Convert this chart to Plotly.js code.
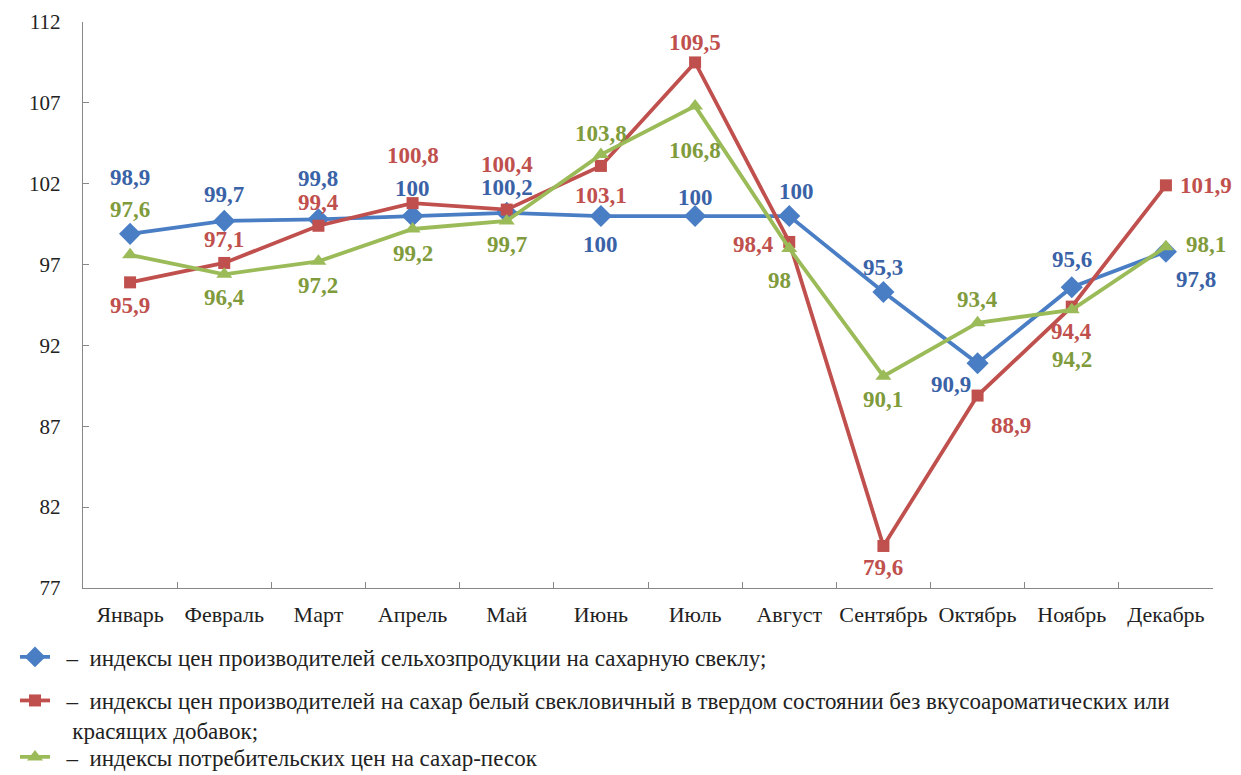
<!DOCTYPE html>
<html>
<head>
<meta charset="utf-8">
<script src="https://cdn.plot.ly/plotly-3.0.1.min.js"></script>
<style>
html,body{margin:0;padding:0;background:#fff;}
#chart{width:1241px;height:775px;}
</style>
</head>
<body>
<div id="chart"></div>
<script>
const months = ["Январь","Февраль","Март","Апрель","Май","Июнь","Июль","Август","Сентябрь","Октябрь","Ноябрь","Декабрь"];
const beetPrices = [98.9, 99.7, 99.8, 100, 100.2, 100, 100, 100, 95.3, 90.9, 95.6, 97.8];
const sugarProducer = [95.9, 97.1, 99.4, 100.8, 100.4, 103.1, 109.5, 98.4, 79.6, 88.9, 94.4, 101.9];
const sugarConsumer = [97.6, 96.4, 97.2, 99.2, 99.7, 103.8, 106.8, 98, 90.1, 93.4, 94.2, 98.1];
const seriesNames = [
  "\u00a0\u00a0–  индексы цен производителей сельхозпродукции на сахарную свеклу;",
  "\u00a0\u00a0–  индексы цен производителей на сахар белый свекловичный в твердом состоянии без вкусоароматических или<br>\u00a0\u00a0\u00a0красящих добавок;",
  "\u00a0\u00a0–  индексы потребительских цен на сахар-песок"
];
const yTicks = [77, 82, 87, 92, 97, 102, 107, 112];

// label offsets (pixels) – styling only
const offBlue = [[0,56],[0,26],[0,41],[0,28],[0,25],[0,-28],[0,19],[7,25],[0,25],[-27,-21],[0,28],[30,-28]];
const offRed = [[0,-23],[0,23],[0,23],[0,48],[0,45],[0,-30],[0,20],[-36,-3],[0,-22],[33,-30],[0,-25],[40,0]];
const offGreen = [[0,45],[0,-23],[0,-24],[0,-25],[0,-24],[0,21],[0,-44],[-10,-32],[0,-23],[0,23],[0,-50],[40,2]];

const serif = "Liberation Serif, Times New Roman, serif";
const cBlue = "#4A7EC4", cRed = "#C0504D", cGreen = "#9BBB59";
const lBlue = "#3A62A6", lRed = "#C0504D", lGreen = "#7F9B3C";

function fmt(v){ return String(v).replace(".", ","); }

const traces = [
  {x: months, y: beetPrices, name: seriesNames[0], type: "scatter", mode: "lines+markers",
   line: {color: cBlue, width: 3.8}, marker: {symbol: "diamond", size: 17, color: cBlue}, legend: "legend"},
  {x: months, y: sugarProducer, name: seriesNames[1], type: "scatter", mode: "lines+markers",
   line: {color: cRed, width: 3.8}, marker: {symbol: "square", size: 12, color: cRed}, legend: "legend2"},
  {x: months, y: sugarConsumer, name: seriesNames[2], type: "scatter", mode: "lines+markers",
   line: {color: cGreen, width: 3.8}, marker: {symbol: "triangle-up", size: 14, color: cGreen}, legend: "legend3"}
];

const annotations = [];
function addLabels(vals, offs, color){
  vals.forEach((v,i)=>{
    annotations.push({x: months[i], y: v, xref: "x", yref: "y", text: fmt(v), showarrow: false,
      xshift: offs[i][0], yshift: offs[i][1], xanchor: "center", yanchor: "middle",
      font: {family: serif, size: 23, color: color, weight: "bold"}});
  });
}
addLabels(beetPrices, offBlue, lBlue);
addLabels(sugarProducer, offRed, lRed);
addLabels(sugarConsumer, offGreen, lGreen);

const legendBase = {xref: "container", yref: "container", x: 15/1241, xanchor: "left",
  orientation: "v", valign: "top", bgcolor: "rgba(0,0,0,0)",
  font: {family: serif, size: 23, color: "#222"}};

const layout = {
  width: 1241, height: 775,
  margin: {l: 83, r: 28, t: 22, b: 187, autoexpand: false},
  paper_bgcolor: "#fff", plot_bgcolor: "#fff",
  showlegend: true,
  xaxis: {type: "category", range: [-0.5, 11.5], tickson: "boundaries", ticks: "inside", ticklen: 6, tickcolor: "#888",
    showline: true, linecolor: "#888", linewidth: 1.3, showgrid: false, zeroline: false, tickangle: 0,
    tickfont: {family: serif, size: 22, color: "#222"}, ticklabelstandoff: 6},
  yaxis: {range: [77, 112], tickvals: yTicks, ticks: "inside", ticklen: 6, tickcolor: "#888",
    showline: true, linecolor: "#888", linewidth: 1.3, showgrid: false, zeroline: false,
    tickfont: {family: serif, size: 21, color: "#222"}, ticklabelstandoff: 17},
  legend: Object.assign({}, legendBase, {y: 1 - 657/775, yanchor: "middle"}),
  legend2: Object.assign({}, legendBase, {y: 1 - 679/775, yanchor: "top"}),
  legend3: Object.assign({}, legendBase, {y: 1 - 757/775, yanchor: "middle"}),
  annotations: annotations
};

Plotly.newPlot("chart", traces, layout, {displayModeBar: false, staticPlot: true});
</script>
</body>
</html>
